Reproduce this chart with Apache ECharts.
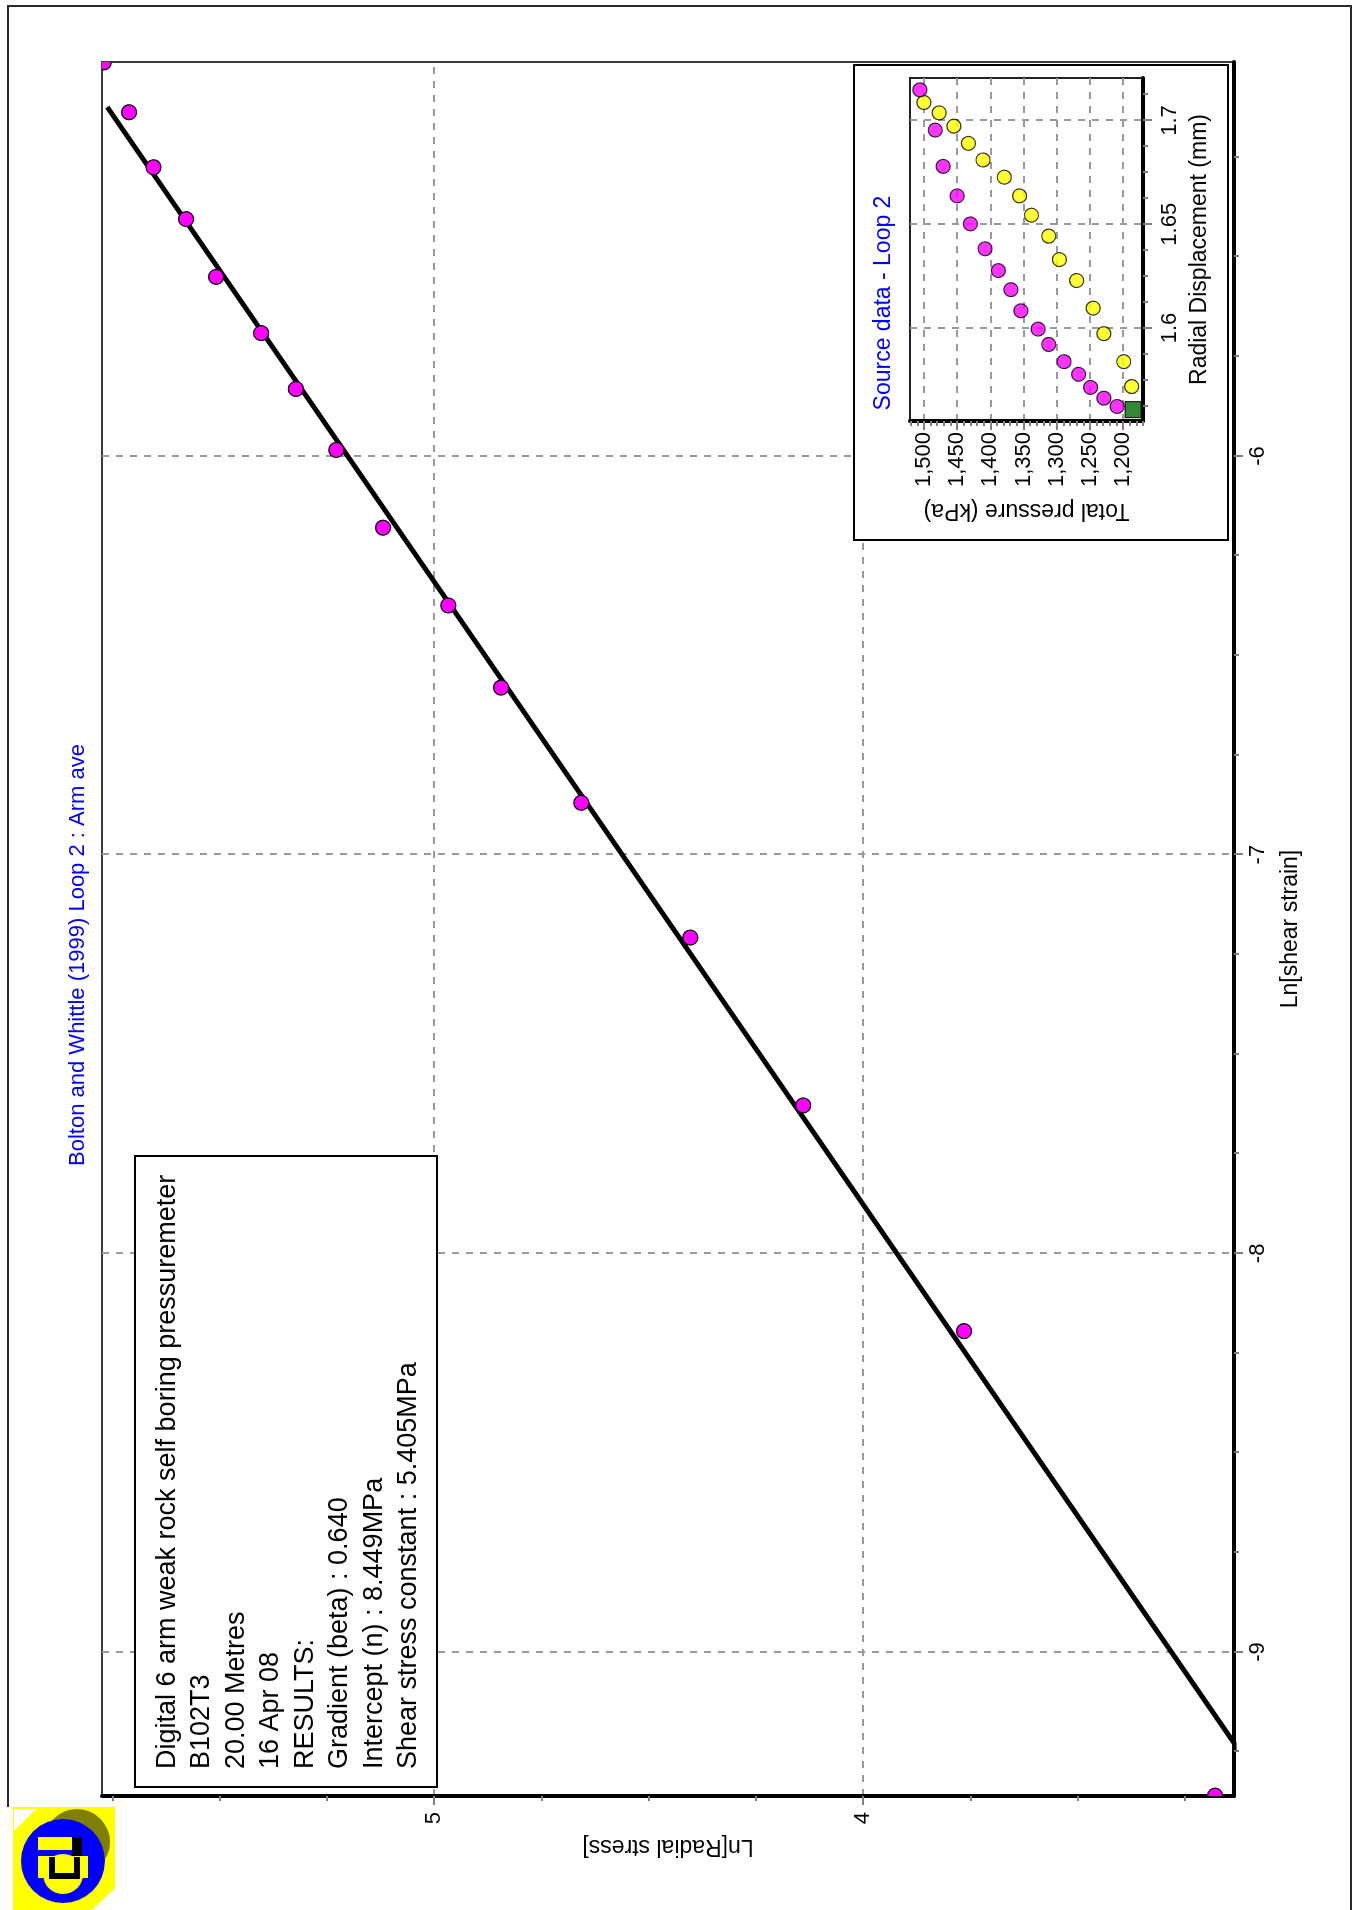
<!DOCTYPE html>
<html>
<head>
<meta charset="utf-8">
<title>Bolton and Whittle (1999) Loop 2</title>
<script src="https://cdn.jsdelivr.net/npm/echarts@6/dist/echarts.min.js"></script>
<style>
  html, body { margin: 0; padding: 0; background: #ffffff; }
  body { width: 1356px; height: 1910px; overflow: hidden; position: relative; }
  /* The sheet is laid out landscape and turned a quarter turn for the portrait page */
  #chart {
    position: absolute; left: 0; top: 0;
    width: 1910px; height: 1356px;
    transform-origin: 0 0;
    transform: translateY(1910px) rotate(-90deg);
  }
</style>
</head>
<body>
<div id="chart"></div>
<script>
// ---- Main plot: Ln[Radial stress] against Ln[shear strain] ----
const shearStrainLn = [-5.013, -5.138, -5.276, -5.406, -5.551, -5.692, -5.832, -5.985,
                       -6.180, -6.375, -6.581, -6.870, -7.208, -7.629, -8.195, -9.360];
const radialStressLn = [5.770, 5.711, 5.654, 5.578, 5.508, 5.403, 5.322, 5.228,
                        5.119, 4.967, 4.844, 4.657, 4.403, 4.140, 3.765, 3.180];

// Fit results printed in the results box
const fitGradient = 0.640;        // Gradient (beta)
const fitInterceptMPa = 8.449;    // Intercept (n)
const shearConstantMPa = 5.405;   // Shear stress constant
const fitStrainRange = [-9.361, -5.125];

const mainXTicks = [-9, -8, -7, -6];
const mainYTicks = [4, 5];

// ---- Inset: source data, loop 2 ----
const dispLoadA = [1.7148, 1.6954, 1.6779, 1.6637, 1.6502, 1.6382, 1.6277, 1.6185,
                   1.6083, 1.5995, 1.5921, 1.5838, 1.5777, 1.5714, 1.5662, 1.5622];
const pressLoadA = [1506, 1483, 1471, 1450, 1430, 1408, 1388, 1369,
                    1354, 1328, 1312, 1289, 1267, 1249, 1229, 1209];
const dispLoadB = [1.7087, 1.7037, 1.6973, 1.6890, 1.6810, 1.6727, 1.6637, 1.6544,
                   1.6443, 1.6330, 1.6229, 1.6096, 1.5973, 1.5838, 1.5718];
const pressLoadB = [1500, 1477, 1455, 1433, 1411, 1379, 1356, 1338,
                    1312, 1296, 1270, 1245, 1229, 1199, 1187];
const loopStartDisp = [1.5607];
const loopStartPress = [1185];

const insetXTicks = [1.6, 1.65, 1.7];
const insetYTicks = [1200, 1250, 1300, 1350, 1400, 1450, 1500];

const titleText = 'Bolton and Whittle (1999) Loop 2 : Arm ave';
const insetTitle = 'Source data - Loop 2';
const resultLines = [
  'Digital 6 arm weak rock self boring pressuremeter',
  'B102T3',
  '20.00 Metres',
  '16 Apr 08',
  'RESULTS:',
  'Gradient (beta) : ' + fitGradient.toFixed(3),
  'Intercept (n) : ' + fitInterceptMPa.toFixed(3) + 'MPa',
  'Shear stress constant : ' + shearConstantMPa.toFixed(3) + 'MPa'
];

// ---- helpers ----
const FONT = '"Liberation Sans", Arial, Helvetica, sans-serif';

function minorTicks(min, max, step, majors) {
  const out = [];
  const start = Math.ceil(min / step - 1e-9);
  const end = Math.floor(max / step + 1e-9);
  for (let k = start; k <= end; k++) {
    const v = +(k * step).toFixed(6);
    if (!majors.some(m => Math.abs(m - v) < 1e-9)) out.push(v);
  }
  return out;
}
function pairs(xs, ys) { return xs.map((x, i) => [x, ys[i]]); }

const MAIN_X = { min: -9.361, max: -5.012 };
const MAIN_Y = { min: 3.136, max: 5.774 };
const INSET_X = { min: 1.5552, max: 1.7205 };
const INSET_Y = { min: 1170, max: 1521 };

const fitIntercept = Math.log(fitInterceptMPa * 1000); // ln of stress in kPa
const fitLine = fitStrainRange.map(x => [x, fitGradient * x + fitIntercept]);

const gridDash = { color: '#9a9a9a', width: 2, type: [7, 7] };
const tickGrey = { color: '#808080', width: 2 };
const labelStyle = { color: '#000', fontSize: 22, fontFamily: FONT };
const nameStyle = { color: '#000', fontSize: 23, fontFamily: FONT };

function majorAxis(gridIndex, range, ticks, pos, extra) {
  return Object.assign({
    type: 'value', gridIndex, position: pos, min: range.min, max: range.max,
    axisLine: { show: true, onZero: false, lineStyle: { color: '#000', width: 4 } },
    axisTick: { show: true, customValues: ticks, length: 9, inside: false, lineStyle: tickGrey },
    axisLabel: { show: true, customValues: ticks, ...labelStyle },
    splitLine: { show: true, lineStyle: gridDash },
    minorTick: { show: false }, minorSplitLine: { show: false },
    nameTextStyle: nameStyle, nameLocation: 'middle'
  }, extra);
}
function minorAxis(gridIndex, range, ticks, pos, len, z) {
  return {
    type: 'value', gridIndex, position: pos, min: range.min, max: range.max, z,
    axisLine: { show: false, onZero: false },
    axisTick: { show: true, customValues: ticks, length: len, lineStyle: tickGrey },
    axisLabel: { show: false },
    splitLine: { show: false }
  };
}

const mainXMinor = minorTicks(MAIN_X.min, MAIN_X.max, 0.25, mainXTicks);
const mainYMinor = minorTicks(MAIN_Y.min, MAIN_Y.max, 0.25, mainYTicks);
const insetXMinor = minorTicks(INSET_X.min, INSET_X.max, 0.0125, insetXTicks);
const insetYMinor = minorTicks(INSET_Y.min, INSET_Y.max, 10, insetYTicks);

// ---- logo in the sheet corner ----
const logo = {
  type: 'group', z: 5,
  children: [
    { type: 'rect', shape: { x: 0, y: 13, width: 103, height: 102 }, style: { fill: '#ffff00' } },
    { type: 'polygon', shape: { points: [[101, 14], [101, 36], [79, 14]] }, style: { fill: '#ffffff' } },
    { type: 'polygon', shape: { points: [[0, 92], [0, 115], [22, 115]] }, style: { fill: '#ffffff' } },
    { type: 'circle', shape: { cx: 68, cy: 77, r: 33 }, style: { fill: '#808000' } },
    { type: 'circle', shape: { cx: 49, cy: 63, r: 42 }, style: { fill: '#0000ff' } },
    { type: 'rect', shape: { x: 60, y: 38, width: 13, height: 40 }, style: { fill: '#ffff00' } },
    { type: 'rect', shape: { x: 53, y: 72, width: 20, height: 10 }, style: { fill: '#000000' } },
    { type: 'rect', shape: { x: 32, y: 38, width: 22, height: 50 }, style: { fill: '#ffff00' } },
    { type: 'circle', shape: { cx: 36, cy: 63, r: 20 }, style: { fill: '#ffff00' } },
    { type: 'polyline', shape: { points: [[53, 52], [34, 52], [34, 77], [53, 77]] },
      style: { stroke: '#000000', lineWidth: 6, fill: null } }
  ]
};

const chart = echarts.init(document.getElementById('chart'), null, { renderer: 'canvas' });

chart.setOption({
  animation: false,
  backgroundColor: '#ffffff',
  title: {
    text: titleText, left: 'center', top: 62,
    textStyle: { color: '#0000ff', fontSize: 22, fontWeight: 'normal', fontFamily: FONT }
  },
  grid: [
    { left: 114, right: 62, top: 102, bottom: 122, show: true,
      borderColor: '#3c3c3c', borderWidth: 2, backgroundColor: 'transparent' },
    { left: 1489, right: 78, top: 910, bottom: 213, show: true, z: 3,
      borderColor: '#222222', borderWidth: 2, backgroundColor: 'transparent' }
  ],
  xAxis: [
    majorAxis(0, MAIN_X, mainXTicks, 'bottom', {
      name: 'Ln[shear strain]', nameGap: 45, axisLabel: { customValues: mainXTicks, margin: 13, ...labelStyle }
    }),
    minorAxis(0, MAIN_X, mainXMinor, 'bottom', 5, 0),
    majorAxis(1, INSET_X, insetXTicks, 'bottom', {
      z: 3, name: 'Radial Displacement (mm)', nameGap: 45,
      axisLabel: { customValues: insetXTicks, margin: 16, ...labelStyle }
    }),
    minorAxis(1, INSET_X, insetXMinor, 'bottom', 5, 3)
  ],
  yAxis: [
    majorAxis(0, MAIN_Y, mainYTicks, 'left', {
      name: 'Ln[Radial stress]', nameGap: 35, nameRotate: 90,
      axisLabel: { customValues: mainYTicks, margin: 16, ...labelStyle }
    }),
    minorAxis(0, MAIN_Y, mainYMinor, 'left', 5, 0),
    majorAxis(1, INSET_Y, insetYTicks, 'left', {
      z: 3, name: 'Total pressure (kPa)', nameGap: 78, nameRotate: 90,
      axisLabel: {
        customValues: insetYTicks, margin: 11, ...labelStyle,
        formatter: v => Number(v).toLocaleString('en-US')
      }
    }),
    minorAxis(1, INSET_Y, insetYMinor, 'left', 5, 3)
  ],
  graphic: [
    // sheet frame
    { type: 'polyline', z: 1, shape: { points: [[103, 8], [1904, 8], [1904, 1351], [0, 1351]] },
      style: { stroke: '#2a2a2a', lineWidth: 2, fill: null } },
    logo,
    // results box
    { type: 'rect', z: 1, shape: { x: 123, y: 135, width: 631, height: 302 },
      style: { fill: '#ffffff', stroke: '#000000', lineWidth: 2 } },
    { type: 'text', z: 2, style: {
        text: resultLines.join('\n'), x: 141, y: 150, fill: '#000000',
        fontSize: 27, fontFamily: FONT, lineHeight: 34.5, verticalAlign: 'top', align: 'left' } },
    // inset panel
    { type: 'rect', z: 1, shape: { x: 1370, y: 854, width: 475, height: 374 },
      style: { fill: '#ffffff', stroke: '#000000', lineWidth: 2 } },
    { type: 'text', z: 2, style: {
        text: insetTitle, x: 1607, y: 872, fill: '#0000ff',
        fontSize: 23, fontFamily: FONT, align: 'center', verticalAlign: 'top' } }
  ],
  series: [
    {
      type: 'line', name: 'fit', xAxisIndex: 0, yAxisIndex: 0, data: fitLine,
      showSymbol: false, clip: true, z: 2,
      lineStyle: { color: '#000000', width: 5 }
    },
    {
      // markers are cut at the plot edge, so points on the axis limits show only in part
      type: 'custom', name: 'Ln points', xAxisIndex: 0, yAxisIndex: 0, clip: true, z: 3,
      data: pairs(shearStrainLn, radialStressLn),
      renderItem: (params, api) => {
        const p = api.coord([api.value(0), api.value(1)]);
        const cs = params.coordSys;
        return {
          type: 'group',
          clipPath: { type: 'rect', shape: { x: cs.x, y: cs.y, width: cs.width, height: cs.height } },
          children: [{
            type: 'circle', shape: { cx: p[0], cy: p[1], r: 7.5 },
            style: { fill: '#ff00ff', stroke: '#000000', lineWidth: 1.2 }
          }]
        };
      }
    },
    {
      type: 'scatter', name: 'loop B', xAxisIndex: 2, yAxisIndex: 2, z: 4,
      data: pairs(dispLoadB, pressLoadB), symbol: 'circle', symbolSize: 14,
      itemStyle: { color: '#ffff00', borderColor: '#000000', borderWidth: 1.2 }
    },
    {
      type: 'scatter', name: 'loop A', xAxisIndex: 2, yAxisIndex: 2, z: 4,
      data: pairs(dispLoadA, pressLoadA), symbol: 'circle', symbolSize: 14,
      itemStyle: { color: '#ff00ff', borderColor: '#000000', borderWidth: 1.2 }
    },
    {
      type: 'scatter', name: 'start', xAxisIndex: 2, yAxisIndex: 2, z: 4,
      data: pairs(loopStartDisp, loopStartPress), symbol: 'rect', symbolSize: 16,
      itemStyle: { color: '#006a00', borderColor: '#000000', borderWidth: 1.2 }
    }
  ]
});
</script>
</body>
</html>
